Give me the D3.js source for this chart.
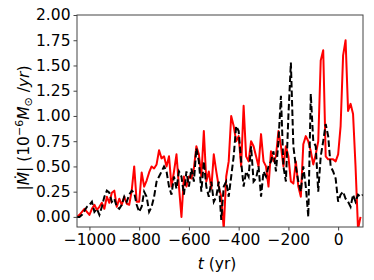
<!DOCTYPE html>
<html>
<head>
<meta charset="utf-8">
<script src="https://cdn.jsdelivr.net/npm/d3@7"></script>
<style>
  body { margin: 0; background: #fff; }
  text { font-family: "DejaVu Sans", sans-serif; }
</style>
</head>
<body>
<script>
// size of the figure
var width = 374,
    height = 280;

// time axis, one sample every 10 yr
var years = d3.range(-1050, 101, 10);

// red solid curve
var redValues = [
  0.00, 0.02, 0.05, 0.08, 0.05, 0.02, 0.08, 0.12, 0.07, 0.10,
  0.14, 0.08, 0.20, 0.14, 0.24, 0.26, 0.10, 0.18, 0.12, 0.20,
  0.13, 0.12, 0.26, 0.50, 0.15, 0.15, 0.44, 0.30, 0.36, 0.44,
  0.50, 0.48, 0.52, 0.66, 0.58, 0.60, 0.50, 0.60, 0.30, 0.45,
  0.62, 0.30, 0.00, 0.40, 0.30, 0.40, 0.38, 0.48, 0.70, 0.62,
  0.40, 0.85, 0.35, 0.45, 0.28, 0.62, 0.45, 0.30, 0.20, -0.12,
  0.40, 0.55, 1.00, 0.90, 0.75, 0.80, 0.50, 1.10, 0.60, 0.55,
  0.75, 0.70, 0.60, 0.50, 0.82, 0.55, 0.50, 0.30, 0.65, 0.55,
  0.60, 0.85, 0.70, 0.50, 0.70, 0.60, 0.35, 0.33, 0.55, 0.30,
  0.20, 0.72, 0.80, 0.75, 0.65, 0.52, 0.62, 0.75, 1.55, 1.65,
  0.60, 0.57, 0.57, 0.57, 0.55, 0.62, 0.90, 1.60, 1.75, 1.05,
  1.12, 1.02, 0.50, -0.12, 0.00
];

// black dashed curve
var blackValues = [
  0.00, 0.00, 0.02, 0.06, 0.10, 0.12, 0.15, 0.05, 0.08, 0.02,
  0.10, 0.20, 0.26, 0.24, 0.15, 0.18, 0.10, 0.08, 0.12, 0.20,
  0.15, 0.22, 0.26, 0.24, 0.12, 0.05, 0.10, 0.25, 0.20, 0.05,
  0.10, 0.20, 0.35, 0.40, 0.45, 0.50, 0.45, 0.30, 0.22, 0.40,
  0.28, 0.45, 0.40, 0.22, 0.45, 0.30, 0.48, 0.35, 0.68, 0.55,
  0.25, 0.55, 0.30, 0.20, 0.35, 0.15, 0.20, 0.35, -0.03, 0.30,
  0.35, 0.20, 0.40, 0.60, 0.90, 0.85, 0.55, 0.30, 0.45, 0.40,
  0.70, 0.35, 0.38, 0.50, 0.20, 0.45, 0.40, 0.50, 0.55, 0.65,
  0.45, 0.75, 1.20, 0.50, 0.35, 1.00, 1.53, 0.70, 0.50, 0.35,
  0.25, 0.50, 0.30, 0.00, 1.22, 0.75, 0.70, 0.25, 0.60, 0.75,
  0.92, 0.80, 0.50, 0.45, 0.38, 0.15, 0.22, 0.25, 0.18, 0.15,
  0.10, 0.22, 0.15, 0.22, 0.20, 0.22
];

var xTicks = [-1000, -800, -600, -400, -200, 0];
var yTicks = [0, 0.25, 0.5, 0.75, 1.0, 1.25, 1.5, 1.75, 2.0];

var svg = d3.select("body").append("svg")
    .attr("width", width)
    .attr("height", height);

var x = d3.scaleLinear().domain([-1050, 100]).range([77, 363]);
var y = d3.scaleLinear().domain([-0.1, 2.0]).range([227, 15]);

// clip the curves to the axes box
svg.append("clipPath").attr("id", "clip")
  .append("rect")
    .attr("x", 77).attr("y", 15)
    .attr("width", 286).attr("height", 212);

var line = d3.line()
    .x(function(d) { return x(d[0]); })
    .y(function(d) { return y(d[1]); });

var plot = svg.append("g").attr("clip-path", "url(#clip)");

plot.append("path")
    .datum(years.map(function(t, i) { return [t, redValues[i]]; }))
    .attr("fill", "none")
    .attr("stroke", "#ff0000")
    .attr("stroke-width", 2)
    .attr("stroke-linejoin", "round")
    .attr("d", line);

plot.append("path")
    .datum(years.map(function(t, i) { return [t, blackValues[i]]; }))
    .attr("fill", "none")
    .attr("stroke", "#000")
    .attr("stroke-width", 2)
    .attr("stroke-dasharray", "6.5,3")
    .attr("d", line);

// frame
svg.append("rect")
    .attr("x", 77).attr("y", 15)
    .attr("width", 286).attr("height", 212)
    .attr("fill", "none")
    .attr("stroke", "#444")
    .attr("stroke-width", 1);

// axes
var xAxis = svg.append("g")
    .attr("transform", "translate(0,227)")
    .call(d3.axisBottom(x).tickValues(xTicks).tickSize(3.5).tickPadding(3)
      .tickFormat(function(d) { return d3.format("d")(d).replace("-", "\u2212"); }));
xAxis.select(".domain").remove();

var yAxis = svg.append("g")
    .attr("transform", "translate(77,0)")
    .call(d3.axisLeft(y).tickValues(yTicks).tickSize(3.5).tickPadding(3)
      .tickFormat(d3.format(".2f")));
yAxis.select(".domain").remove();

svg.selectAll(".tick line").attr("stroke", "#444");
svg.selectAll(".tick text")
    .attr("font-family", "DejaVu Sans, sans-serif")
    .attr("font-size", 15.5)
    .attr("fill", "#000");

// x label
var xl = svg.append("text")
    .attr("x", 217).attr("y", 269)
    .attr("text-anchor", "middle")
    .attr("font-size", 15.5);
xl.append("tspan").attr("font-style", "italic").text("t");
xl.append("tspan").text(" (yr)");

// y label
var yl = svg.append("text")
    .attr("transform", "translate(29,128) rotate(-90)")
    .attr("text-anchor", "middle")
    .attr("font-size", 15.5);
yl.append("tspan").text("|");
yl.append("tspan").attr("font-style", "italic").text("\u1E40");
yl.append("tspan").text("| (10");
yl.append("tspan").attr("font-size", 11).attr("dy", -6).text("\u22126");
yl.append("tspan").attr("font-style", "italic").attr("dy", 6).text("M");
yl.append("tspan").attr("font-size", 11).attr("dy", 3).text("\u2299");
yl.append("tspan").attr("dy", -3).text(" /");
yl.append("tspan").attr("font-style", "italic").text("yr");
yl.append("tspan").text(")");
</script>
</body>
</html>
